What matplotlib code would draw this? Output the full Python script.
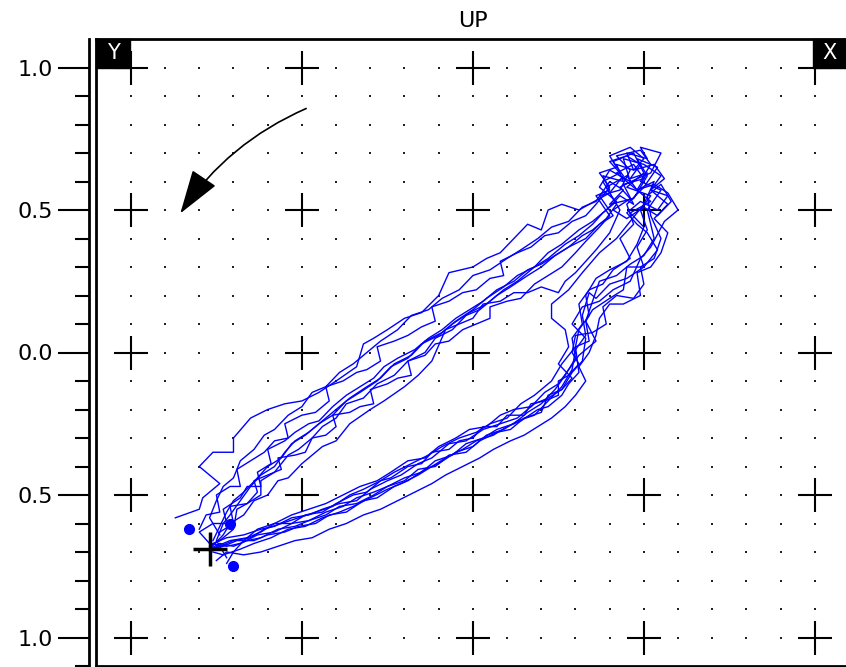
import numpy as np
import matplotlib
matplotlib.use("Agg")
import matplotlib.pyplot as plt
from matplotlib.patches import Rectangle

# trajectory, one list pair per cycle (lower-left -> upper branch -> top cluster -> lower branch)
cyc1_x = [-0.87, -0.80, -0.79, -0.74, -0.80, -0.76, -0.70, -0.70, -0.65, -0.60, -0.55, -0.50, -0.45, -0.40,
          -0.34, -0.32, -0.29, -0.25, -0.20, -0.15, -0.10, -0.07, 0.00, 0.04, 0.08, 0.12, 0.16, 0.20, 0.22,
          0.26, 0.31, 0.37, 0.40,
          0.44, 0.41, 0.47, 0.50, 0.45, 0.52, 0.49,
          0.51, 0.48, 0.50, 0.45, 0.40, 0.36, 0.34, 0.32, 0.33, 0.30, 0.29, 0.26, 0.22, 0.18, 0.13, 0.09, 0.04,
          0.00, -0.05, -0.10, -0.14, -0.19, -0.23, -0.28, -0.32, -0.37, -0.42, -0.46, -0.51, -0.55, -0.60,
          -0.64, -0.69, -0.73, -0.77]
cyc1_y = [-0.58, -0.55, -0.51, -0.46, -0.40, -0.35, -0.35, -0.30, -0.23, -0.20, -0.18, -0.17, -0.14, -0.10,
          -0.05, 0.03, 0.05, 0.08, 0.12, 0.14, 0.20, 0.28, 0.30, 0.33, 0.35, 0.40, 0.45, 0.43, 0.50,
          0.52, 0.50, 0.54, 0.56,
          0.62, 0.67, 0.70, 0.63, 0.58, 0.55, 0.50,
          0.43, 0.37, 0.30, 0.26, 0.24, 0.19, 0.21, 0.13, 0.06, 0.01, -0.06, -0.12, -0.17, -0.22, -0.24, -0.27,
          -0.29, -0.33, -0.35, -0.39, -0.41, -0.45, -0.47, -0.51, -0.52, -0.56, -0.57, -0.60, -0.61, -0.63,
          -0.64, -0.66, -0.66, -0.68, -0.69]

cyc2_x = [-0.77, -0.73, -0.71, -0.67, -0.64, -0.60, -0.57, -0.54, -0.50, -0.48, -0.44, -0.40, -0.36, -0.30,
          -0.26, -0.20, -0.16, -0.12, -0.08, -0.04, 0.00, 0.03, 0.08, 0.12, 0.16, 0.20, 0.25, 0.27, 0.30, 0.33,
          0.36, 0.40,
          0.43, 0.39, 0.45, 0.48, 0.53, 0.50, 0.46,
          0.42, 0.37, 0.32, 0.28, 0.23, 0.23, 0.27, 0.28, 0.25, 0.29, 0.26, 0.22, 0.18, 0.13, 0.08, 0.03,
          -0.02, -0.07, -0.12, -0.16, -0.21, -0.25, -0.30, -0.34, -0.39, -0.44, -0.48, -0.53, -0.58, -0.62,
          -0.67, -0.72, -0.76]
cyc2_y = [-0.69, -0.64, -0.60, -0.57, -0.52, -0.50, -0.45, -0.44, -0.39, -0.37, -0.33, -0.31, -0.25, -0.20,
          -0.17, -0.12, -0.08, -0.03, 0.08, 0.10, 0.12, 0.17, 0.18, 0.21, 0.21, 0.23, 0.21, 0.25, 0.28, 0.32,
          0.36, 0.42,
          0.50, 0.58, 0.62, 0.57, 0.60, 0.52, 0.46,
          0.40, 0.35, 0.28, 0.22, 0.17, 0.12, 0.08, 0.02, -0.04, -0.09, -0.13, -0.16, -0.18, -0.23, -0.25, -0.27,
          -0.31, -0.32, -0.37, -0.39, -0.43, -0.45, -0.48, -0.52, -0.53, -0.55, -0.57, -0.58, -0.61, -0.62,
          -0.64, -0.65, -0.67]

cyc3_x = [-0.76, -0.74, -0.72, -0.70, -0.67, -0.63, -0.60, -0.56, -0.53, -0.49, -0.45, -0.41, -0.37, -0.33,
          -0.28, -0.24, -0.19, -0.15, -0.10, -0.06, -0.01, 0.04, 0.09, 0.13, 0.18, 0.22, 0.27, 0.31, 0.35, 0.38,
          0.42, 0.37, 0.40, 0.46, 0.44, 0.50, 0.55, 0.52, 0.57, 0.53,
          0.57, 0.55, 0.52, 0.48, 0.49, 0.44, 0.40, 0.37, 0.36, 0.34, 0.31, 0.33, 0.30, 0.27, 0.23, 0.19, 0.15,
          0.11, 0.06, 0.02, -0.03, -0.08, -0.12, -0.17, -0.22, -0.27, -0.32, -0.37, -0.42, -0.47, -0.52, -0.57,
          -0.62, -0.67, -0.72, -0.75]
cyc3_y = [-0.66, -0.61, -0.56, -0.52, -0.49, -0.44, -0.40, -0.37, -0.32, -0.29, -0.25, -0.22, -0.17, -0.14,
          -0.10, -0.05, -0.02, 0.03, 0.06, 0.10, 0.14, 0.17, 0.22, 0.25, 0.30, 0.33, 0.38, 0.41, 0.45, 0.49,
          0.53, 0.58, 0.64, 0.60, 0.68, 0.66, 0.62, 0.57, 0.52, 0.47,
          0.42, 0.35, 0.30, 0.28, 0.20, 0.17, 0.17, 0.12, 0.06, 0.00, -0.05, -0.10, -0.15, -0.19, -0.23, -0.26,
          -0.29, -0.31, -0.34, -0.37, -0.40, -0.43, -0.46, -0.49, -0.52, -0.55, -0.57, -0.60, -0.62, -0.65,
          -0.66, -0.68, -0.70, -0.71, -0.70, -0.73]

cyc4_x = [-0.74, -0.77, -0.75, -0.73, -0.70, -0.68, -0.64, -0.61, -0.58, -0.54, -0.50, -0.47, -0.43, -0.39,
          -0.35, -0.30, -0.27, -0.22, -0.18, -0.13, -0.09, -0.04, 0.00, 0.05, 0.10, 0.14, 0.19, 0.23, 0.28,
          0.32, 0.36,
          0.40, 0.44, 0.40, 0.47, 0.51, 0.48, 0.54, 0.50, 0.45,
          0.47, 0.43, 0.46, 0.41, 0.38, 0.34, 0.31, 0.32, 0.29, 0.30, 0.27, 0.24, 0.20, 0.16, 0.12, 0.07, 0.03,
          -0.02, -0.06, -0.11, -0.15, -0.20, -0.25, -0.29, -0.34, -0.39, -0.43, -0.48, -0.53, -0.58, -0.63,
          -0.68, -0.72, -0.77]
cyc4_y = [-0.64, -0.58, -0.52, -0.47, -0.44, -0.38, -0.34, -0.29, -0.27, -0.22, -0.19, -0.14, -0.12, -0.07,
          -0.04, 0.01, 0.04, 0.08, 0.13, 0.15, 0.19, 0.22, 0.27, 0.29, 0.33, 0.36, 0.40, 0.44, 0.46,
          0.51, 0.53,
          0.60, 0.57, 0.52, 0.54, 0.62, 0.68, 0.65, 0.58, 0.52,
          0.45, 0.40, 0.33, 0.29, 0.24, 0.22, 0.17, 0.10, 0.05, -0.02, -0.08, -0.13, -0.18, -0.21, -0.25, -0.27,
          -0.30, -0.32, -0.36, -0.38, -0.42, -0.44, -0.47, -0.50, -0.53, -0.54, -0.57, -0.59, -0.60, -0.63,
          -0.64, -0.67, -0.68, -0.67]

cyc5_x = [-0.77, -0.74, -0.70, -0.69, -0.66, -0.62, -0.62, -0.58, -0.54, -0.51, -0.47, -0.44, -0.40, -0.37,
          -0.32, -0.28, -0.23, -0.19, -0.14, -0.11, -0.06, -0.02, 0.02, 0.07, 0.11, 0.16, 0.20, 0.24, 0.28,
          0.33, 0.37,
          0.41, 0.37, 0.43, 0.46, 0.42, 0.49, 0.52, 0.49, 0.55, 0.51,
          0.53, 0.50, 0.46, 0.42, 0.37, 0.35, 0.33, 0.36, 0.31, 0.28, 0.25, 0.21, 0.17, 0.12, 0.08, 0.04,
          -0.01, -0.05, -0.10, -0.14, -0.19, -0.24, -0.28, -0.33, -0.38, -0.43, -0.48, -0.53, -0.58, -0.63,
          -0.67, -0.70, -0.72]
cyc5_y = [-0.68, -0.66, -0.62, -0.55, -0.53, -0.50, -0.45, -0.42, -0.36, -0.34, -0.30, -0.26, -0.23, -0.18,
          -0.16, -0.11, -0.08, -0.03, 0.00, 0.05, 0.08, 0.13, 0.15, 0.20, 0.23, 0.27, 0.30, 0.34, 0.37,
          0.40, 0.45,
          0.48, 0.55, 0.57, 0.64, 0.69, 0.71, 0.66, 0.60, 0.57, 0.50,
          0.40, 0.34, 0.31, 0.27, 0.25, 0.18, 0.11, 0.04, -0.01, -0.06, -0.11, -0.14, -0.19, -0.20, -0.22, -0.26,
          -0.27, -0.30, -0.33, -0.37, -0.38, -0.42, -0.45, -0.47, -0.50, -0.53, -0.55, -0.57, -0.60, -0.62,
          -0.66, -0.70, -0.74]

cyc6_x = [-0.72, -0.75, -0.73, -0.71, -0.68, -0.65, -0.62, -0.58, -0.55, -0.52, -0.48, -0.44, -0.40, -0.36,
          -0.31, -0.27, -0.23, -0.18, -0.14, -0.09, -0.05, 0.00, 0.04, 0.09, 0.13, 0.18, 0.22, 0.26, 0.31,
          0.35, 0.39,
          0.43, 0.47, 0.44, 0.50, 0.47, 0.42, 0.48, 0.52, 0.46, 0.50,
          0.48, 0.45, 0.40, 0.36, 0.33, 0.34, 0.31, 0.30, 0.26, 0.23, 0.18, 0.14, 0.10, 0.05, 0.01, -0.04,
          -0.09, -0.13, -0.18, -0.23, -0.27, -0.32, -0.36, -0.41, -0.46, -0.51, -0.56, -0.61, -0.65, -0.70,
          -0.74, -0.77]
cyc6_y = [-0.72, -0.66, -0.60, -0.57, -0.52, -0.47, -0.43, -0.40, -0.35, -0.31, -0.28, -0.24, -0.20, -0.16,
          -0.12, -0.09, -0.04, -0.01, 0.04, 0.07, 0.11, 0.15, 0.19, 0.23, 0.27, 0.30, 0.35, 0.38, 0.43,
          0.46, 0.50,
          0.55, 0.52, 0.59, 0.61, 0.66, 0.63, 0.57, 0.53, 0.49, 0.44,
          0.38, 0.32, 0.29, 0.26, 0.20, 0.13, 0.08, 0.02, -0.04, -0.10, -0.15, -0.18, -0.23, -0.25, -0.28, -0.30,
          -0.33, -0.36, -0.39, -0.42, -0.45, -0.48, -0.50, -0.54, -0.56, -0.58, -0.60, -0.62, -0.65, -0.66,
          -0.68, -0.69]

cyc7_x = [-0.74, -0.70, -0.71, -0.66, -0.63, -0.64, -0.60, -0.56, -0.57, -0.52, -0.49, -0.47, -0.43, -0.40,
          -0.41, -0.36, -0.33, -0.29, -0.30, -0.25, -0.22, -0.18, -0.19, -0.14, -0.11, -0.07, -0.03, 0.01, 0.05,
          0.05, 0.10, 0.14, 0.18, 0.22, 0.26, 0.30, 0.33, 0.37, 0.40,
          0.36, 0.40, 0.38, 0.44, 0.42, 0.47, 0.45, 0.51, 0.49, 0.55, 0.52, 0.48, 0.43, 0.46, 0.41, 0.45, 0.50,
          0.54, 0.58, 0.55, 0.51,
          0.52, 0.55, 0.53, 0.49, 0.50, 0.47, 0.42, 0.38, 0.39, 0.35, 0.30, 0.29, 0.31, 0.28, 0.25, 0.25, 0.21,
          0.17, 0.15, 0.10, 0.07, 0.03, 0.00, -0.04, -0.07, -0.12, -0.15, -0.19, -0.24, -0.27, -0.31, -0.35,
          -0.40, -0.44, -0.49, -0.53, -0.58, -0.62, -0.66, -0.71, -0.75]
cyc7_y = [-0.63, -0.60, -0.54, -0.53, -0.49, -0.45, -0.43, -0.41, -0.37, -0.36, -0.35, -0.30, -0.29, -0.26,
          -0.22, -0.21, -0.19, -0.18, -0.13, -0.11, -0.09, -0.08, -0.03, -0.01, 0.03, 0.04, 0.08, 0.10, 0.12,
          0.16, 0.18, 0.19, 0.24, 0.27, 0.30, 0.35, 0.39, 0.44, 0.48,
          0.55, 0.57, 0.62, 0.60, 0.66, 0.64, 0.70, 0.68, 0.72, 0.70, 0.63, 0.61, 0.58, 0.54, 0.50, 0.47, 0.51,
          0.48, 0.53, 0.59, 0.55,
          0.48, 0.40, 0.33, 0.30, 0.24, 0.19, 0.20, 0.16, 0.10, 0.07, 0.06, 0.00, -0.04, -0.08, -0.10, -0.15,
          -0.17, -0.18, -0.22, -0.22, -0.26, -0.26, -0.30, -0.31, -0.34, -0.35, -0.39, -0.40, -0.44, -0.45,
          -0.49, -0.50, -0.53, -0.56, -0.57, -0.60, -0.60, -0.63, -0.65, -0.66, -0.68]

cyc8_x = [-0.80, -0.78, -0.74, -0.75, -0.71, -0.68, -0.69, -0.65, -0.61, -0.58, -0.54, -0.55, -0.50, -0.46,
          -0.42, -0.43, -0.38, -0.34, -0.31, -0.27, -0.28, -0.23, -0.19, -0.15, -0.11, -0.12, -0.07, -0.03,
          0.01, 0.05, 0.09, 0.08, 0.13, 0.17, 0.21, 0.25, 0.29, 0.33, 0.36,
          0.40, 0.37, 0.42, 0.40, 0.46, 0.50, 0.47, 0.53, 0.56, 0.52, 0.57, 0.54, 0.49, 0.45, 0.48,
          0.51, 0.54, 0.50, 0.45, 0.44, 0.40, 0.35, 0.33, 0.34, 0.30, 0.31, 0.28, 0.26, 0.22, 0.19, 0.14, 0.10,
          0.06, 0.01, -0.03, -0.08, -0.12, -0.16, -0.21, -0.25, -0.30, -0.35, -0.39, -0.44, -0.49, -0.54,
          -0.59, -0.64, -0.68, -0.73, -0.76]
cyc8_y = [-0.62, -0.57, -0.56, -0.50, -0.47, -0.47, -0.41, -0.38, -0.35, -0.31, -0.30, -0.25, -0.22, -0.21,
          -0.17, -0.12, -0.10, -0.07, -0.06, -0.03, 0.02, 0.04, 0.06, 0.09, 0.11, 0.16, 0.18, 0.21,
          0.22, 0.26, 0.27, 0.32, 0.35, 0.37, 0.41, 0.42, 0.46, 0.48, 0.52,
          0.58, 0.63, 0.65, 0.69, 0.72, 0.68, 0.64, 0.66, 0.61, 0.57, 0.55, 0.50, 0.53, 0.49, 0.45,
          0.42, 0.36, 0.30, 0.30, 0.22, 0.19, 0.15, 0.11, 0.04, 0.02, -0.07, -0.11, -0.15, -0.19, -0.20, -0.24,
          -0.26, -0.29, -0.31, -0.34, -0.37, -0.40, -0.43, -0.46, -0.48, -0.51, -0.54, -0.56, -0.58, -0.61,
          -0.62, -0.65, -0.67, -0.69, -0.71, -0.70]

cyc9_x = [-0.77, -0.80, -0.76, -0.72, -0.73, -0.68, -0.66, -0.62, -0.63, -0.59, -0.60, -0.55, -0.52, -0.48,
          -0.45, -0.41, -0.37, -0.33, -0.29, -0.26, -0.22, -0.17, -0.13, -0.09, -0.05, -0.01, 0.03, 0.07, 0.12,
          0.16, 0.20, 0.24, 0.28, 0.32, 0.35, 0.39, 0.42,
          0.38, 0.43, 0.40, 0.45, 0.49, 0.46, 0.51, 0.48, 0.53, 0.57, 0.60, 0.56,
          0.52, 0.49, 0.46, 0.41, 0.37, 0.32, 0.29, 0.33, 0.32, 0.29, 0.26, 0.22, 0.20, 0.15, 0.11, 0.07, 0.02,
          -0.02, -0.07, -0.11, -0.16, -0.20, -0.25, -0.29, -0.34, -0.38, -0.43, -0.48, -0.52, -0.57, -0.62,
          -0.66, -0.70, -0.74, -0.77]
cyc9_y = [-0.67, -0.63, -0.60, -0.60, -0.55, -0.51, -0.47, -0.47, -0.42, -0.39, -0.34, -0.31, -0.28, -0.25,
          -0.24, -0.19, -0.15, -0.12, -0.09, -0.05, -0.02, 0.01, 0.05, 0.08, 0.12, 0.15, 0.18, 0.22, 0.25,
          0.29, 0.31, 0.34, 0.37, 0.41, 0.43, 0.47, 0.52,
          0.60, 0.63, 0.67, 0.69, 0.66, 0.61, 0.63, 0.57, 0.59, 0.56, 0.50, 0.46,
          0.37, 0.33, 0.25, 0.22, 0.18, 0.16, 0.10, 0.05, -0.03, -0.07, -0.13, -0.15, -0.21, -0.23, -0.27, -0.28,
          -0.31, -0.35, -0.36, -0.40, -0.41, -0.45, -0.47, -0.49, -0.51, -0.54, -0.56, -0.59, -0.61, -0.62,
          -0.65, -0.66, -0.68, -0.67, -0.69]

# small filled blobs near the start region
blob_x = [-0.83, -0.70, -0.71]
blob_y = [-0.62, -0.75, -0.60]
cursor_x, cursor_y = -0.77, -0.69

ytick_pos = [1.0, 0.5, 0.0, -0.5, -1.0]
ytick_lab = ["1.0", "0.5", "0.0", "0.5", "1.0"]
grid_major = [-1.0, -0.5, 0.0, 0.5, 1.0]
grid_minor = np.round(np.arange(-10, 11) * 0.1, 2)

fig = plt.figure(figsize=(8.46, 6.67), dpi=100)
ax = fig.add_axes([96 / 846, 1 / 667, 750 / 846, 627 / 667])
ax.set_xlim(-1.102, 1.091)
ax.set_ylim(-1.1, 1.1)

# dotted grid and plus marks
gx, gy = np.meshgrid(grid_minor, grid_minor)
keep = ~(np.isin(gx, grid_major) & np.isin(gy, grid_major))
ax.scatter(gx[keep], gy[keep], s=2.5, marker="s", color="#222222", linewidths=0, zorder=1)
px, py = np.meshgrid(grid_major, grid_major)
ax.scatter(px.ravel(), py.ravel(), s=24 ** 2, marker="+", color="black", linewidths=1.5, zorder=1)

cycles = [(cyc1_x, cyc1_y), (cyc2_x, cyc2_y), (cyc3_x, cyc3_y), (cyc4_x, cyc4_y), (cyc5_x, cyc5_y),
          (cyc6_x, cyc6_y), (cyc7_x, cyc7_y), (cyc8_x, cyc8_y), (cyc9_x, cyc9_y)]
for cx, cy in cycles:
    ax.plot(cx, cy, color="#0000ff", lw=1.0, zorder=2)
ax.plot(blob_x, blob_y, "o", color="#0000ff", ms=7, zorder=2)
ax.plot(cursor_x, cursor_y, "+", color="black", ms=24, mew=2.5, zorder=3)

# direction arrow
ax.annotate("", xy=(-0.86, 0.48), xytext=(-0.48, 0.86),
            arrowprops=dict(arrowstyle="-|>,head_length=1.4,head_width=0.45", color="black",
                            lw=1.2, connectionstyle="arc3,rad=0.15", mutation_scale=20))

# frame: left axis offset from the box line
for s in ["right", "bottom"]:
    ax.spines[s].set_visible(False)
ax.spines["top"].set_linewidth(2)
ax.spines["left"].set_position(("outward", 5))
ax.spines["left"].set_linewidth(2)
ax.plot([0, 0], [0, 1], transform=ax.transAxes, color="black", lw=2, clip_on=False)
ax.plot([0, 1], [0, 0], transform=ax.transAxes, color="black", lw=2, clip_on=False)

ax.set_xticks([])
ax.set_yticks(ytick_pos)
ax.set_yticklabels(ytick_lab, fontsize=16)
ax.set_yticks(np.round(np.arange(-11, 11) * 0.1, 2), minor=True)
ax.tick_params(axis="y", which="major", length=22, width=1.5, pad=4)
ax.tick_params(axis="y", which="minor", length=10, width=1.5)

# corner tags
ax.add_patch(Rectangle((0, 1 - 29 / 627), 34 / 750, 29 / 627, transform=ax.transAxes,
                       color="black", zorder=5, clip_on=False))
ax.text(17 / 750, 1 - 14 / 627, "Y", transform=ax.transAxes, color="white", fontsize=15,
        ha="center", va="center", zorder=6)
ax.add_patch(Rectangle((717 / 750, 1 - 29 / 627), 33 / 750, 29 / 627, transform=ax.transAxes,
                       color="black", zorder=5, clip_on=False))
ax.text(733 / 750, 1 - 14 / 627, "X", transform=ax.transAxes, color="white", fontsize=15,
        ha="center", va="center", zorder=6)

fig.text(473 / 846, 1 - 21 / 667, "UP", fontsize=16, ha="center", va="center")

fig.savefig("out.png", dpi=100)
